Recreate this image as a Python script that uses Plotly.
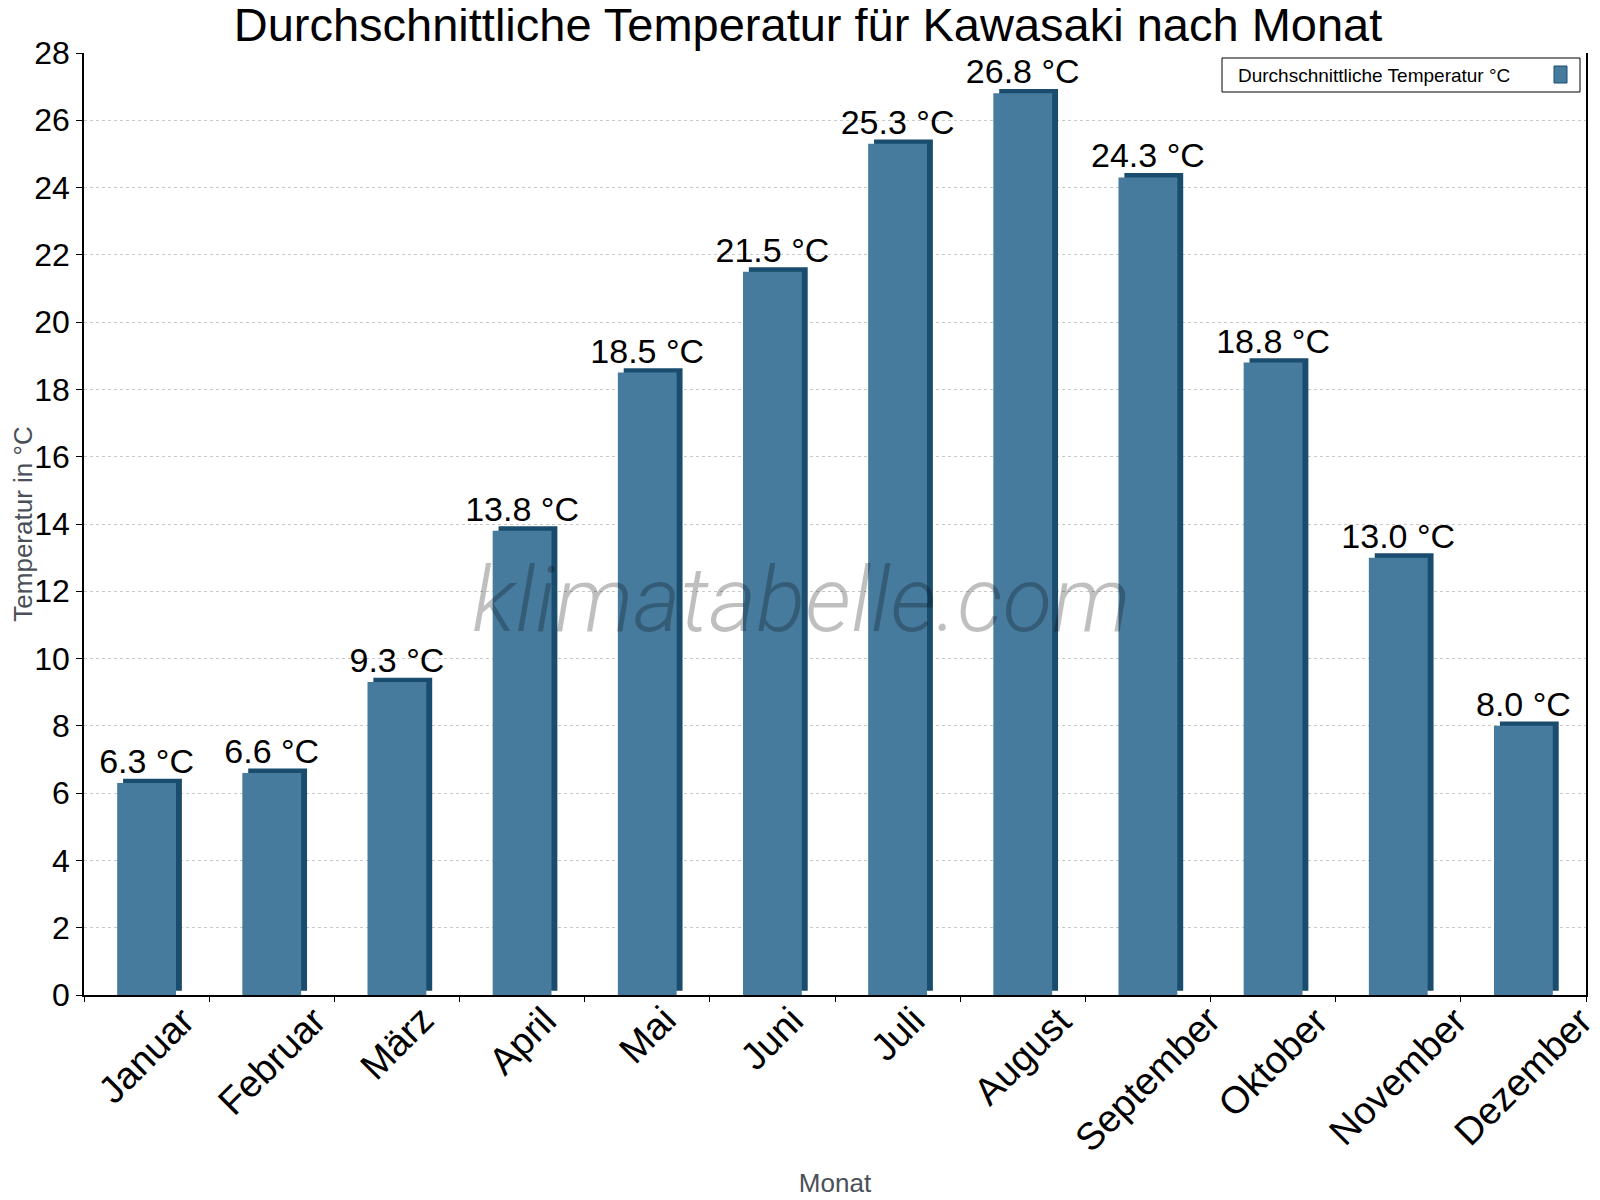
import plotly.graph_objects as go

monate = ["Januar", "Februar", "März", "April", "Mai", "Juni", "Juli",
          "August", "September", "Oktober", "November", "Dezember"]
temperatur = [6.3, 6.6, 9.3, 13.8, 18.5, 21.5, 25.3, 26.8, 24.3, 18.8, 13.0, 8.0]
y_ticks = list(range(0, 29, 2))

FARBE = "#467B9E"
DUNKEL = "#1A4C6E"
SCHRIFT = "Liberation Sans, Arial, sans-serif"
PLOT_H = 942  # Hoehe der Zeichenflaeche in px

fig = go.Figure()

# dunkle Seite/Deckel fuer den 3D-Effekt
fig.add_trace(go.Bar(
    x=monate, y=temperatur, base=0.13,
    width=0.47, offset=-0.188,
    marker=dict(color=DUNKEL, line=dict(width=0)),
    showlegend=False, hoverinfo="skip"
))

fig.add_trace(go.Bar(
    x=monate, y=temperatur,
    width=0.47, offset=-0.235,
    marker=dict(color=FARBE, line=dict(width=0)),
    name="Durchschnittliche Temperatur °C",
    text=temperatur, texttemplate="%{text:.1f} °C",
    textposition="outside", constraintext="none",
    textfont=dict(size=34, color="black", family=SCHRIFT),
    cliponaxis=False, showlegend=False
))

fig.update_layout(
    width=1600, height=1200,
    barmode="overlay",
    plot_bgcolor="white", paper_bgcolor="white",
    margin=dict(l=76, r=22, t=45, b=213),
    font=dict(family=SCHRIFT, color="black"),
    title=dict(text="Durchschnittliche Temperatur für Kawasaki nach Monat",
               x=0.5, xanchor="center", y=0.986, yanchor="middle",
               font=dict(size=47, color="black", family=SCHRIFT)),
)

fig.update_xaxes(
    type="category", range=[-0.5, len(monate) - 0.5], automargin=False,
    showline=True, linecolor="black", linewidth=1.5,
    ticks="outside", tickson="boundaries", ticklen=5, tickcolor="black",
    showticklabels=False,
    showgrid=False,
    title=dict(text="Monat", font=dict(size=26, color="#4A5058"), standoff=178),
)

fig.update_yaxes(
    range=[0, 28], tickvals=y_ticks, automargin=False,
    showline=True, linecolor="black", linewidth=1.5, mirror=True,
    ticks="outside", ticklen=6, tickcolor="black",
    tickfont=dict(size=32, color="black", family=SCHRIFT),
    showgrid=True, gridcolor="#C8C8C8", griddash="dot", gridwidth=1,
    zeroline=False,
    title=dict(text="Temperatur in °C", font=dict(size=26, color="#4A5058"), standoff=0),
)

# Monatsnamen schraeg, mittig unter der Kategorie
for m in monate:
    fig.add_annotation(
        text=m, x=m, xref="x", y=-1 / PLOT_H, yref="paper",
        xanchor="center", yanchor="top", textangle=-45,
        showarrow=False, font=dict(size=38, color="black", family=SCHRIFT),
    )

# Wasserzeichen
fig.add_annotation(
    text="klimatabelle.com", xref="paper", yref="paper",
    x=(801 - 84) / 1502, y=(995 - 600) / PLOT_H,
    showarrow=False,
    font=dict(size=91, family="Roboto", color="rgba(0,0,0,0.25)",
              style="italic", weight=300),
)

# Legende (Symbol rechts vom Text)
fig.add_shape(type="rect", xref="paper", yref="paper",
              x0=(1222 - 84) / 1502, x1=(1580 - 84) / 1502,
              y0=(995 - 92) / PLOT_H, y1=(995 - 58) / PLOT_H,
              line=dict(color="black", width=1), fillcolor="white", layer="above")
fig.add_annotation(
    text="Durchschnittliche Temperatur °C", xref="paper", yref="paper",
    x=(1236 - 84) / 1502, y=(995 - 75) / PLOT_H, xanchor="left", yanchor="middle",
    showarrow=False, font=dict(size=19, color="black", family=SCHRIFT),
)
fig.add_shape(type="rect", xref="paper", yref="paper",
              x0=(1554 - 84) / 1502, x1=(1567 - 84) / 1502,
              y0=(995 - 83) / PLOT_H, y1=(995 - 66) / PLOT_H,
              line=dict(color=DUNKEL, width=1), fillcolor=FARBE, layer="above")

fig.write_html("out.html")
